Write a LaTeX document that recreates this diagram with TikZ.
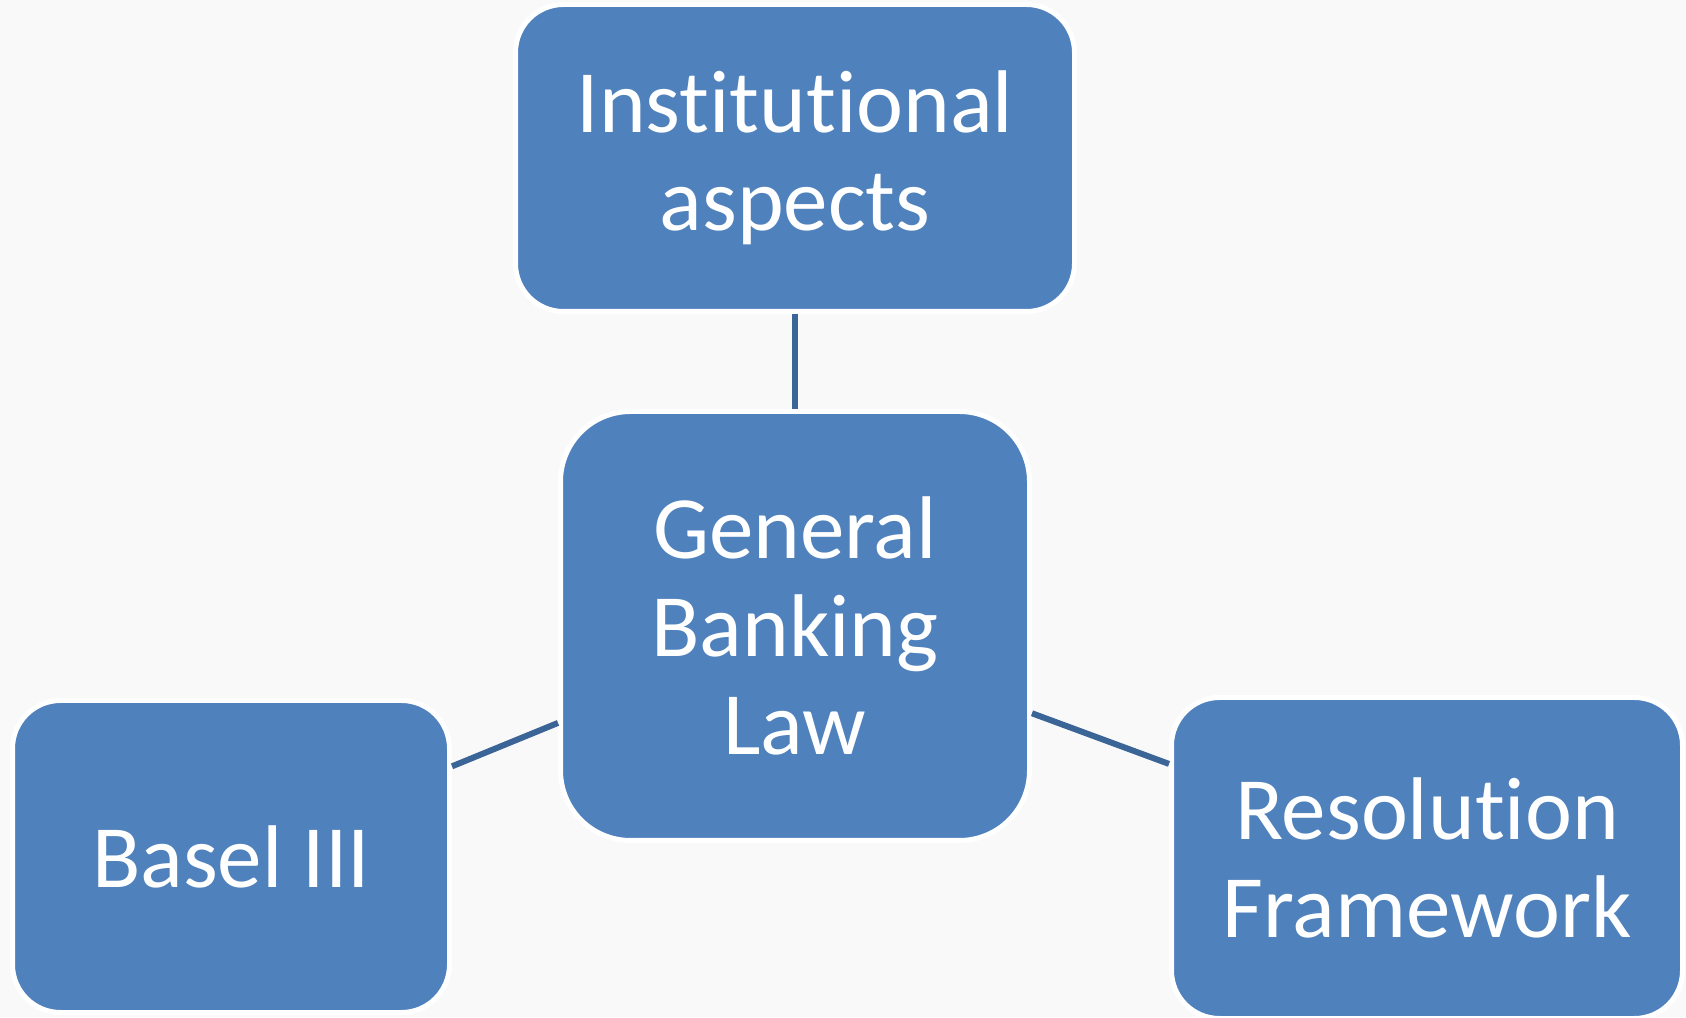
\documentclass[tikz,border=0pt]{standalone}
\usepackage{fontspec}
\setmainfont[Ligatures={NoCommon}]{Carlito}
\definecolor{boxblue}{HTML}{4F81BD}
\definecolor{linkblue}{HTML}{3C6597}
\definecolor{paper}{HTML}{F9F9F9}
\tikzset{
  topic/.style={fill=boxblue, draw=white, line width=5pt, text=white, inner sep=0pt,
    align=center, font=\fontsize{89}{98}\selectfont, rounded corners=48pt},
  link/.style={draw=linkblue, line width=6pt}
}

\begin{document}
\begin{tikzpicture}[x=1pt,y=1pt]
    \fill[paper] (0,0) rectangle (1686,1017); % background
    \useasboundingbox (0,0) rectangle (1686,1017);
    \node[topic, minimum width=559pt, minimum height=307pt] (inst) at (795,859) {Institutional\\aspects}; % top
    \node[topic, minimum width=469pt, minimum height=429pt, rounded corners=70pt] (gbl) at (795,391) {General\\Banking\\Law}; % centre
    \node[topic, minimum width=437pt, minimum height=312pt] (basel) at (231,160.5) {Basel III}; % left
    \node[topic, minimum width=511pt, minimum height=321pt] (resol) at (1427,159) {Resolution\\Framework}; % right
    \draw[link] (inst) -- (gbl); % vertical link
    \draw[link] (gbl) -- (basel); % left link
    \draw[link] (gbl) -- (resol); % right link
  \end{tikzpicture}
\end{document}
